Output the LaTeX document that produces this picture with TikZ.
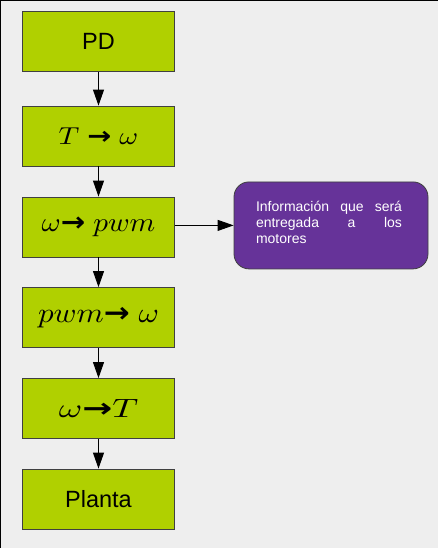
\documentclass[tikz,border=0pt]{standalone}
\usepackage{fontspec}
\setmainfont{Liberation Sans}
\newfontfamily\arrowfont{DejaVu Sans}
\usetikzlibrary{arrows.meta}
\definecolor{boxgreen}{RGB}{176,208,0}
\definecolor{infopurple}{RGB}{102,51,153}
\definecolor{bggray}{RGB}{238,238,238}
\newcommand{\heavyarrow}{\mbox{\arrowfont\bfseries →}}

\begin{document}
\begin{tikzpicture}[x=1pt,y=-1pt,
  block/.style={draw=black!75, fill=boxgreen, line width=0.8pt,
    minimum width=151.6pt, minimum height=60pt, inner sep=0pt,
    font=\fontsize{23.5}{28}\selectfont},
  conn/.style={-{Triangle[length=16pt,width=11pt]}, line width=0.9pt}]
% Background and frame
\useasboundingbox (0,0) rectangle (438,548);
\fill[bggray] (0,0) rectangle (438,548);
\draw[line width=1pt] (0.5,548) -- (0.5,0.5) -- (438,0.5);

% Chain of blocks
\node[block] (pd) at (98.5,41.7) {PD};
\node[block] (tw) at (98.5,136) {\normalsize\scalebox{2.87}[2.45]{$T$ \heavyarrow{} $\omega$}};
\node[block] (wpwm) at (98.5,227) {\normalsize\scalebox{2.92}[2.7]{$\omega$\heavyarrow{} $pwm$}};
\node[block] (pwmw) at (98.5,317.5) {\normalsize\scalebox{3.1}[2.8]{$pwm$\heavyarrow{} $\omega$}};
\node[block] (wt) at (98.5,408.5) {\normalsize\scalebox{3.58}[2.65]{$\omega$\heavyarrow$T$}};
\node[block] (planta) at (98.5,499) {Planta};

% Note for the motors
\node[draw=black!75, fill=infopurple, line width=0.8pt, rounded corners=15pt,
  minimum width=194pt, minimum height=87pt, inner sep=0pt] (info) at (331,225.4) {};
\node[text=white, text width=146pt, align=justify, inner sep=0pt,
  font=\fontsize{14}{16.3}\selectfont] (infotext) at (329,222.5)
  {Información que será\linebreak entregada a los\linebreak \mbox{motores}};

% Connectors
\draw[conn] (pd) -- (tw);
\draw[conn] (tw) -- (wpwm);
\draw[conn] (wpwm) -- (pwmw);
\draw[conn] (pwmw) -- (wt);
\draw[conn] (wt) -- (planta);
\draw[conn] (wpwm.east |- info.west) -- (info.west);
\end{tikzpicture}
\end{document}
